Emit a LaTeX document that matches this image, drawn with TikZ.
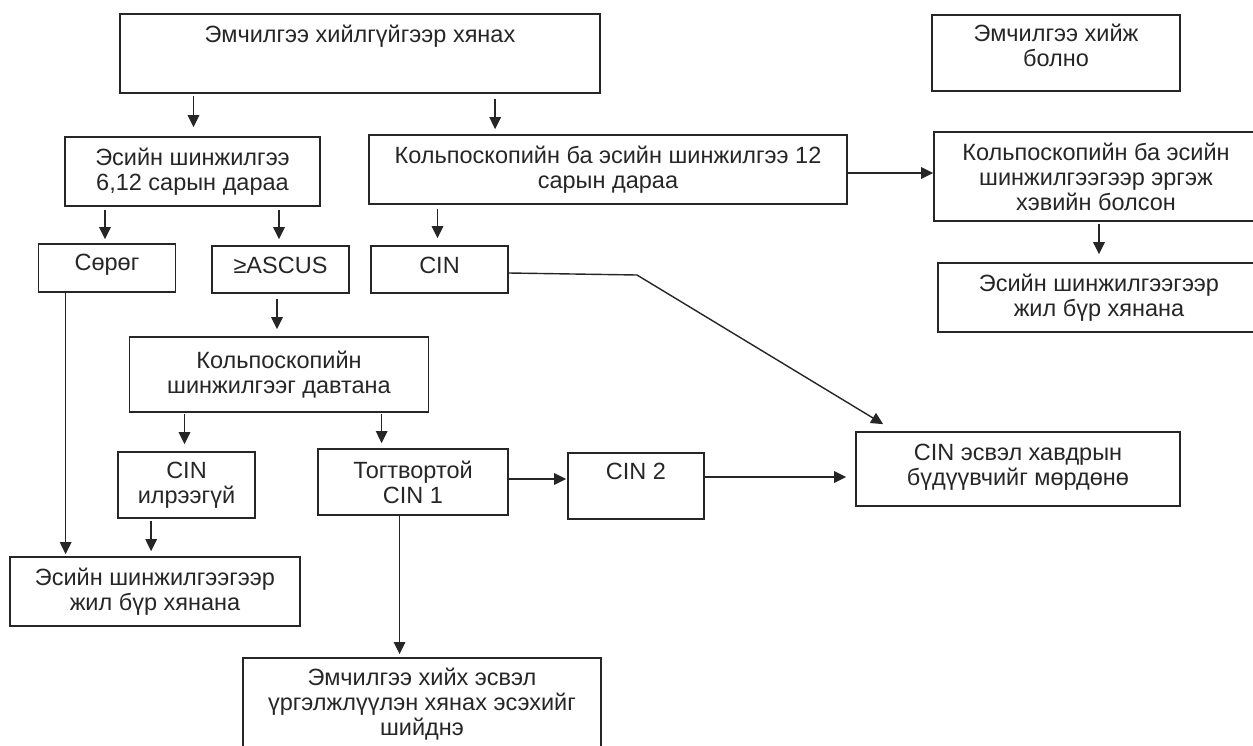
\documentclass[tikz,border=0pt]{standalone}
\usepackage{fontspec}
\setmainfont{Liberation Sans}
\usetikzlibrary{arrows.meta}
\definecolor{ink}{HTML}{262626}
\tikzset{
  box/.style={draw=ink, line width=1.7pt, inner sep=0pt, align=center,
    text=ink, font=\fontsize{23.5}{25}\selectfont},
  arr/.style={draw=ink, -{Triangle[length=12pt,width=11.5pt]}, line width=1.4pt}
}
\begin{document}
\begin{tikzpicture}[x=1pt,y=-1pt]
\useasboundingbox (0,0) rectangle (1253,745);
\clip (0,0) rectangle (1253,745);

% boxes
\node[box, minimum width=480, minimum height=79, text height=16pt, text depth=39pt]
  (top) at (360,53.5) {Эмчилгээ хийлгүйгээр хянах};
\node[box, minimum width=248, minimum height=76, text depth=15pt]
  (treat) at (1056,53) {Эмчилгээ хийж\\болно};
\node[box, minimum width=255, minimum height=69]
  (cyto) at (192.5,171.5) {Эсийн шинжилгээ\\6,12 сарын дараа};
\node[box, minimum width=478, minimum height=69]
  (colpo) at (608,169.5) {Кольпоскопийн ба эсийн шинжилгээ 12\\сарын дараа};
\node[box, minimum width=324, minimum height=89]
  (rcolpo) at (1096,176.5) {Кольпоскопийн ба эсийн\\шинжилгээгээр эргэж\\хэвийн болсон};
\node[box, minimum width=322, minimum height=69]
  (rcyto) at (1099,297.5) {Эсийн шинжилгээгээр\\жил бүр хянана};
\node[box, minimum width=137, minimum height=48, text depth=11pt]
  (neg) at (107,268) {Сөрөг};
\node[box, minimum width=137, minimum height=47, text depth=9pt]
  (ascus) at (280.5,269.5) {≥ASCUS};
\node[box, minimum width=137, minimum height=47, text depth=9pt]
  (cin) at (439.5,269.5) {CIN};
\node[box, minimum width=299, minimum height=75]
  (repeat) at (279,374.5) {Кольпоскопийн\\шинжилгээг давтана};
\node[box, minimum width=137, minimum height=66]
  (nocin) at (186.5,485) {CIN\\илрээгүй};
\node[box, minimum width=190, minimum height=66]
  (cin1) at (413,482) {Тогтвортой\\CIN 1};
\node[box, minimum width=136, minimum height=66, text height=16pt, text depth=30pt]
  (cin2) at (636,486) {CIN 2};
\node[box, minimum width=324, minimum height=74, text depth=9pt]
  (follow) at (1018,469) {CIN эсвэл хавдрын\\бүдүүвчийг мөрдөнө};
\node[box, minimum width=290, minimum height=69]
  (annual) at (155,591.5) {Эсийн шинжилгээгээр\\жил бүр хянана};
\node[box, minimum width=358, minimum height=92]
  (decide) at (422,704) {Эмчилгээ хийх эсвэл\\үргэлжлүүлэн хянах эсэхийг\\шийднэ};

% connector anchors
\coordinate (a1) at ([xshift=1pt]cyto.north);
\coordinate (a2) at ([xshift=127pt]colpo.north west);
\coordinate (a3) at ([xshift=-2pt]neg.north);
\coordinate (a4) at ([xshift=-1.5pt]ascus.north);
\coordinate (a5) at ([xshift=-2pt]cin.north);
\coordinate (a6) at ([yshift=3.5pt]rcolpo.west);
\coordinate (a8) at ([xshift=-2pt]repeat.north);
\coordinate (a9) at ([xshift=-2pt]nocin.north);
\coordinate (a10) at ([xshift=64.5pt]cin1.north west);
\coordinate (a11) at ([xshift=56.5pt]annual.north west);
\coordinate (a12) at ([xshift=142pt]annual.north west);
\coordinate (a13) at ([yshift=3pt]cin1.east);
\coordinate (a14) at ([yshift=9pt]cin2.east);
\coordinate (a15) at ([xshift=82.4pt]cin1.south west);
\coordinate (bend) at (637,275);
\coordinate (tip) at ([xshift=28pt,yshift=7pt]follow.north west);

% connectors
\draw[arr, shorten <=2pt, shorten >=9pt] (a1 |- top.south) -- (a1);
\draw[arr, shorten <=5pt, shorten >=5pt] (a2 |- top.south) -- (a2);
\draw[arr, shorten <=3pt, shorten >=4pt] (a3 |- cyto.south) -- (a3);
\draw[arr, shorten <=3pt, shorten >=6pt] (a4 |- cyto.south) -- (a4);
\draw[arr, shorten <=4pt, shorten >=7pt] (a5 |- colpo.south) -- (a5);
\draw[arr] (a6 -| colpo.east) -- (a6);
\draw[arr, shorten <=2pt, shorten >=8pt] (rcolpo.south -| rcyto.north) -- (rcyto.north);
\draw[arr, shorten <=5pt, shorten >=7pt] (a8 |- ascus.south) -- (a8);
\draw[arr, shorten <=1pt, shorten >=7pt] (a9 |- repeat.south) -- (a9);
\draw[arr, shorten <=1pt, shorten >=5pt] (a10 |- repeat.south) -- (a10);
\draw[arr, shorten >=2pt] (a11 |- neg.south) -- (a11);
\draw[arr, shorten <=2pt, shorten >=5pt] (a12 |- nocin.south) -- (a12);
\draw[arr, shorten >=1pt] (a13) -- (a13 -| cin2.west);
\draw[arr, shorten >=9pt] (a14) -- (a14 -| follow.west);
\draw[arr, shorten >=3pt] (a15) -- (a15 |- decide.north);
\draw[arr] ([yshift=-3.5pt]cin.east) -- (bend) -- (tip);
\end{tikzpicture}
\end{document}
